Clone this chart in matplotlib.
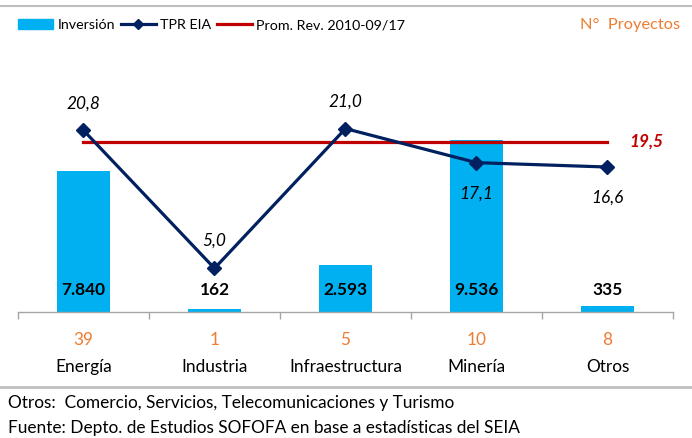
import numpy as np
import matplotlib.pyplot as plt
from matplotlib.patches import Patch
from matplotlib.lines import Line2D

plt.rcParams['font.family'] = ['Lato', 'DejaVu Sans']

categorias = ["Energía", "Industria", "Infraestructura", "Minería", "Otros"]
inversion = [7840, 162, 2593, 9536, 335]
inversion_txt = ["7.840", "162", "2.593", "9.536", "335"]
tpr = [20.8, 5.0, 21.0, 17.1, 16.6]
tpr_txt = ["20,8", "5,0", "21,0", "17,1", "16,6"]
prom = 19.5
proyectos = [39, 1, 5, 10, 8]

azul = "#00B0F0"
navy = "#002060"
rojo = "#C00000"
naranjo = "#ED7D31"
gris = "#A6A6A6"
fs = 12.4

W, H = 692, 438
fig = plt.figure(figsize=(W / 100, H / 100), dpi=100)
ax = fig.add_axes([18 / W, (H - 312) / H, (673 - 18) / W, (312 - 50) / H])
x = np.arange(len(categorias))

ax.bar(x, inversion, width=0.4, color=azul, zorder=2)
ax.set_ylim(0, 14550)
ax.set_xlim(-0.5, len(categorias) - 0.5)
ax.set_yticks([])
ax.set_xticks(np.arange(-0.5, len(categorias)), labels=[])
ax.tick_params(axis='x', direction='out', length=5, width=1, color=gris)
for s in ['top', 'left', 'right']:
    ax.spines[s].set_visible(False)
ax.spines['bottom'].set_color(gris)
ax.spines['bottom'].set_linewidth(1)

for i, t in enumerate(inversion_txt):
    ax.annotate(t, xy=(i, 0), xycoords=('data', 'axes fraction'),
                xytext=(0, 22), textcoords='offset pixels',
                ha='center', va='center', fontsize=fs, fontweight='bold')
    ax.annotate(str(proyectos[i]), xy=(i, 0), xycoords=('data', 'axes fraction'),
                xytext=(0, -28), textcoords='offset pixels',
                ha='center', va='center', fontsize=fs, color=naranjo)
    ax.annotate(categorias[i], xy=(i, 0), xycoords=('data', 'axes fraction'),
                xytext=(0, -55), textcoords='offset pixels',
                ha='center', va='center', fontsize=fs)

ax2 = ax.twinx()
ax2.set_ylim(0, 30)
ax2.axis('off')
ax2.plot(x, [prom] * len(x), color=rojo, lw=2.3, zorder=3)
ax2.plot(x, tpr, color=navy, lw=2.3, marker='D', ms=7, zorder=4)

desplaz = [27, 28, 27, -31, -31]
for i, t in enumerate(tpr_txt):
    ax2.annotate(t, xy=(i, tpr[i]), xytext=(0, desplaz[i]), textcoords='offset pixels',
                 ha='center', va='center', fontsize=fs, style='italic')
ax2.annotate("19,5", xy=(len(x) - 1, prom), xytext=(39, 0), textcoords='offset pixels',
             ha='center', va='center', fontsize=fs, style='italic', fontweight='bold', color=rojo)

handles = [Patch(color=azul),
           Line2D([], [], color=navy, lw=2.3, marker='D', ms=5),
           Line2D([], [], color=rojo, lw=2.3)]
fig.legend(handles, ["Inversión", "TPR EIA", "Prom. Rev. 2010-09/17"], ncol=3,
           loc='center left', bbox_to_anchor=(8 / W, 1 - 25 / H), frameon=False,
           fontsize=10.3, handlelength=2.45, handletextpad=0.3, columnspacing=0.4,
           borderpad=0.2)
fig.text(580 / W, 1 - 25 / H, "N°  Proyectos", color=naranjo, fontsize=11.8, va='center')

fig.add_artist(Line2D([0, 1], [1 - 6 / H, 1 - 6 / H], color="#BFBFBF", lw=1.5))
fig.add_artist(Line2D([0, 1], [1 - 387 / H, 1 - 387 / H], color="#BFBFBF", lw=2))
fig.text(8 / W, 1 - 403 / H, "Otros:  Comercio, Servicios, Telecomunicaciones y Turismo",
         fontsize=fs, va='center')
fig.text(8 / W, 1 - 428 / H, "Fuente: Depto. de Estudios SOFOFA en base a estadísticas del SEIA",
         fontsize=fs, va='center')

fig.savefig("out.png", dpi=100)
